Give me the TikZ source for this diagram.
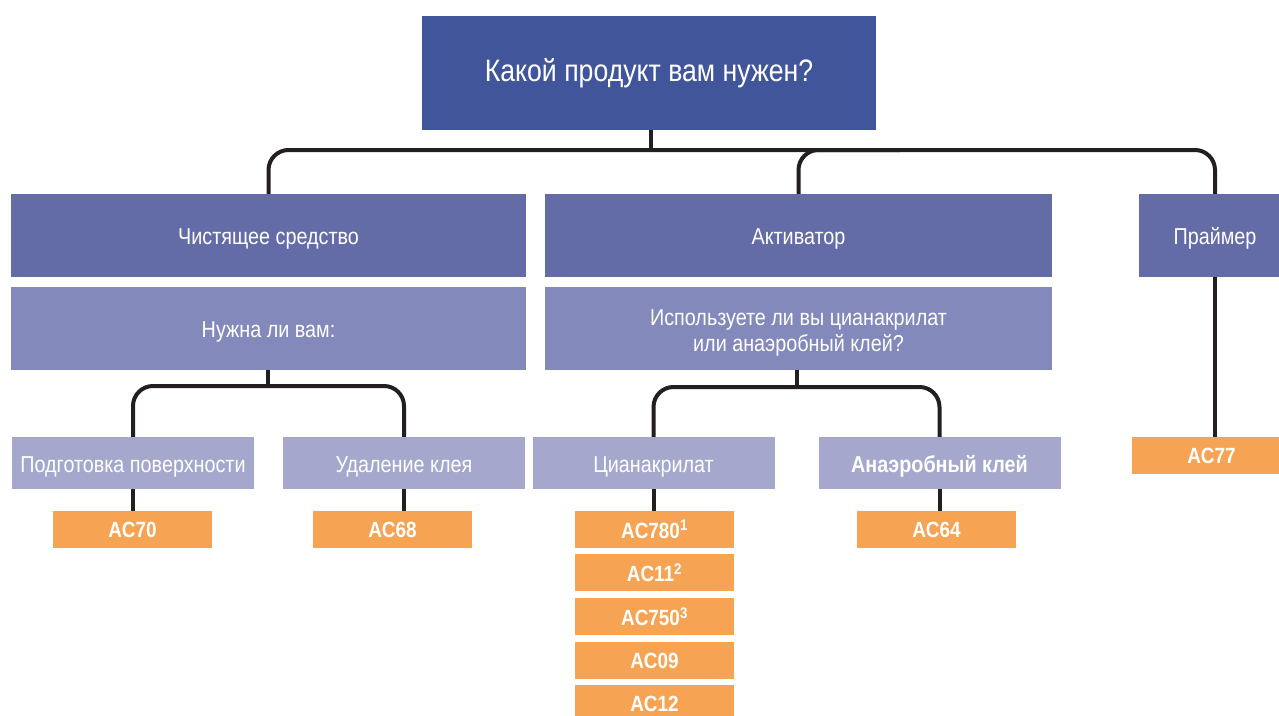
\documentclass[tikz,border=0pt]{standalone}
\usepackage{fontspec}
\setmainfont{Liberation Sans}[FakeStretch=0.86]
\usetikzlibrary{positioning}

\definecolor{topblue}{HTML}{41569A}
\definecolor{midblue}{HTML}{646CA8}
\definecolor{softblue}{HTML}{8389BA}
\definecolor{paleblue}{HTML}{A5A8CC}
\definecolor{prodorange}{HTML}{F6A453}
\definecolor{linegray}{HTML}{231F20}

\tikzset{
	box/.style={rectangle, inner sep=0pt, text=white, align=center, font=\fontsize{23}{26}\selectfont},
	lowtext/.style={text height=18pt, text depth=0pt},
	question/.style={box, lowtext, fill=midblue, minimum width=515pt, minimum height=83pt},
	subquestion/.style={box, fill=softblue, minimum width=515pt, minimum height=83pt},
	choice/.style={box, lowtext, fill=paleblue, minimum width=242pt, minimum height=52pt},
	product/.style={box, fill=prodorange, minimum width=159pt, minimum height=37pt, font=\fontsize{22}{25}\selectfont\bfseries},
	conn/.style={line width=4pt, draw=linegray, rounded corners=20pt},
}

\begin{document}
\begin{tikzpicture}[x=1pt, y=-1pt]
		\useasboundingbox (0,0) rectangle (1279,715);
		% top question
		\node[box, fill=topblue, minimum width=454pt, minimum height=114pt, font=\fontsize{31}{36}\selectfont] (q) at (649,73) {Какой продукт вам нужен?};
		% product groups
		\node[question] (clean) at (268.5,235.5) {Чистящее средство};
		\node[question, minimum width=507pt] (act) at (798.5,235.5) {Активатор};
		\node[question, minimum width=152pt] (primer) at (1215,235.5) {Праймер};
		\node[subquestion, lowtext] (need) at (268.5,328.5) {Нужна ли вам:};
		\node[subquestion, minimum width=507pt] (use) at (798.5,328.5) {\rule{0pt}{25pt}Используете ли вы цианакрилат\\или анаэробный клей?};
		% choices
		\node[choice] (prep) at (133,463) {Подготовка поверхности};
		\node[choice] (remove) at (404,463) {Удаление клея};
		\node[choice] (cyan) at (653.5,463) {Цианакрилат};
		\node[choice, font=\fontsize{23}{26}\selectfont\bfseries] (anaer) at (939.5,463) {Анаэробный клей};
		% products
		\node[product] (ac70) at (132.5,529.5) {AC70};
		\node[product] (ac68) at (392.5,529.5) {AC68};
		\node[product] (ac780) at (654.5,529.5) {AC780\textsuperscript{1}};
		\node[product] (ac11) at (654.5,572.5) {AC11\textsuperscript{2}};
		\node[product] (ac750) at (654.5,616.5) {AC750\textsuperscript{3}};
		\node[product] (ac09) at (654.5,660.5) {AC09};
		\node[product] (ac12) at (654.5,703.5) {AC12};
		\node[product] (ac64) at (936.5,529.5) {AC64};
		\node[product] (ac77) at (1211.5,455.5) {AC77};
		% connectors
		\coordinate (bar0) at (651,150);
		\coordinate (bar0r) at (900,150);
		\coordinate (bar1) at (268,386);
		\coordinate (bar2) at (797,387);
		\draw[conn] (q.south -| bar0) -- (bar0);
		\draw[conn] (clean.north) |- (bar0) -| (primer.north);
		\draw[conn] (act.north) |- (bar0r);
		\draw[conn] (need.south -| bar1) -- (bar1);
		\draw[conn] (prep.north) |- (bar1) -| (remove.north);
		\draw[conn] (use.south -| bar2) -- (bar2);
		\draw[conn] (cyan.north) |- (bar2) -| (anaer.north);
		\draw[conn] (prep.south) -- (prep.south |- ac70.north);
		\draw[conn] (remove.south) -- (remove.south |- ac68.north);
		\draw[conn] (cyan.south) -- (cyan.south |- ac780.north);
		\draw[conn] (anaer.south) -- (anaer.south |- ac64.north);
		\draw[conn] (primer.south) -- (primer.south |- ac77.north);
\end{tikzpicture}
\end{document}
